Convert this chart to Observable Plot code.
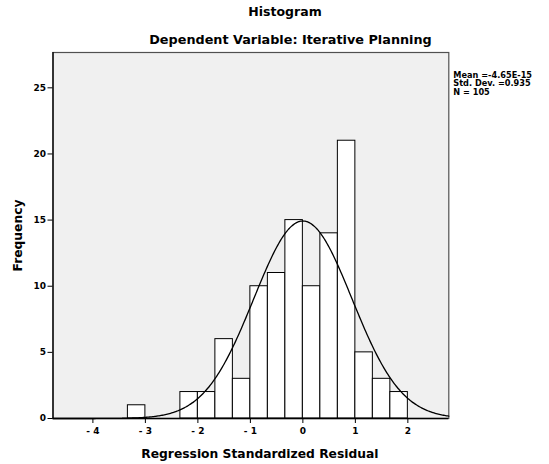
<!DOCTYPE html>
<html>
<head>
<meta charset="utf-8">
<script src="https://cdn.jsdelivr.net/npm/d3@7"></script>
<script src="https://cdn.jsdelivr.net/npm/@observablehq/plot@0.6"></script>
<style>
  html, body { margin: 0; padding: 0; background: #fff; }
  svg { font-family: "DejaVu Sans", Arial, Helvetica, sans-serif; }
</style>
</head>
<body>
<div id="chart"></div>
<script>
// ---- Data ----
const binStart = [-3.3333, -2.3333, -2, -1.6667, -1.3333, -1, -0.6667, -0.3333, 0, 0.3333, 0.6667, 1, 1.3333, 1.6667];
const binEnd   = [-3, -2, -1.6667, -1.3333, -1, -0.6667, -0.3333, 0, 0.3333, 0.6667, 1, 1.3333, 1.6667, 2];
const counts   = [1, 2, 2, 6, 3, 10, 11, 15, 10, 14, 21, 5, 3, 2];
const xTicks = [-4, -3, -2, -1, 0, 1, 2];
const yTicks = [0, 5, 10, 15, 20, 25];
const statLines = ["Mean =-4.65E-15", "Std. Dev. =0.935", "N = 105"];
const stats = {mean: -4.65e-15, sd: 0.935, n: 105, binWidth: 1/3};
const xDomain = [-4.76, 2.78];
const yDomain = [0, 27.67];

const bins = binStart.map((s, i) => ({x1: s, x2: binEnd[i], y: counts[i]}));

// Normal curve implied by the stated Mean, Std. Dev. and N
const curve = d3.range(xDomain[0], xDomain[1] + 1e-9, 0.02).map(x => ({
  x,
  y: stats.n * stats.binWidth * Math.exp(-0.5 * ((x - stats.mean) / stats.sd) ** 2) / (stats.sd * Math.sqrt(2 * Math.PI))
}));

const fmt = d => d < 0 ? "- " + Math.abs(d) : String(d);
const font = "DejaVu Sans, Arial, Helvetica, sans-serif";
const txt = {fontWeight: "bold", fill: "#000", lineAnchor: "middle", text: d => d};

const chart = Plot.plot({
  width: 549,
  height: 464,
  marginLeft: 52.5,
  marginRight: 100.7,
  marginTop: 52,
  marginBottom: 46,
  style: {fontFamily: font, background: "#fff"},
  x: {domain: xDomain},
  y: {domain: yDomain},
  marks: [
    Plot.frame({fill: "#f0f0f0", stroke: "#505050", strokeWidth: 1.2}),
    Plot.rectY(bins, {x1: "x1", x2: "x2", y: "y", fill: "#fff", stroke: "#000", strokeWidth: 1, inset: 0}),
    Plot.line(curve, {x: "x", y: "y", stroke: "#000", strokeWidth: 1.3, curve: "basis"}),
    Plot.ruleY([0], {stroke: "#000", strokeWidth: 1.3}),
    Plot.ruleX([xDomain[0]], {stroke: "#000", strokeWidth: 1.3}),
    Plot.axisX({ticks: xTicks, tickFormat: fmt, tickSize: 5, tickPadding: 4, label: null, fontWeight: "bold", fontSize: 9, stroke: "#000"}),
    Plot.axisY({ticks: yTicks, tickSize: 5, tickPadding: 2, label: null, fontWeight: "bold", fontSize: 9, stroke: "#000"}),
    // Titles
    Plot.text(["Histogram"], {...txt, frameAnchor: "top-left", dx: 284.5 - 52.5, dy: -41, fontSize: 12.5, textAnchor: "middle"}),
    Plot.text(["Dependent Variable: Iterative Planning"], {...txt, frameAnchor: "top-left", dx: 290 - 52.5, dy: -13, fontSize: 12.8, textAnchor: "middle"}),
    // Axis labels
    Plot.text(["Frequency"], {...txt, frameAnchor: "left", dx: -35, rotate: -90, fontSize: 12.3, textAnchor: "middle"}),
    Plot.text(["Regression Standardized Residual"], {...txt, frameAnchor: "bottom", dx: 9, dy: 36, fontSize: 12.3, textAnchor: "middle"}),
    // Stats legend
    Plot.text([statLines[0]], {...txt, frameAnchor: "top-right", dx: 4.5, dy: 22.5, fontSize: 8.2, textAnchor: "start"}),
    Plot.text([statLines[1]], {...txt, frameAnchor: "top-right", dx: 4.5, dy: 31, fontSize: 8.2, textAnchor: "start"}),
    Plot.text([statLines[2]], {...txt, frameAnchor: "top-right", dx: 4.5, dy: 39.5, fontSize: 8.2, textAnchor: "start"})
  ]
});

document.getElementById("chart").appendChild(chart);
</script>
</body>
</html>
